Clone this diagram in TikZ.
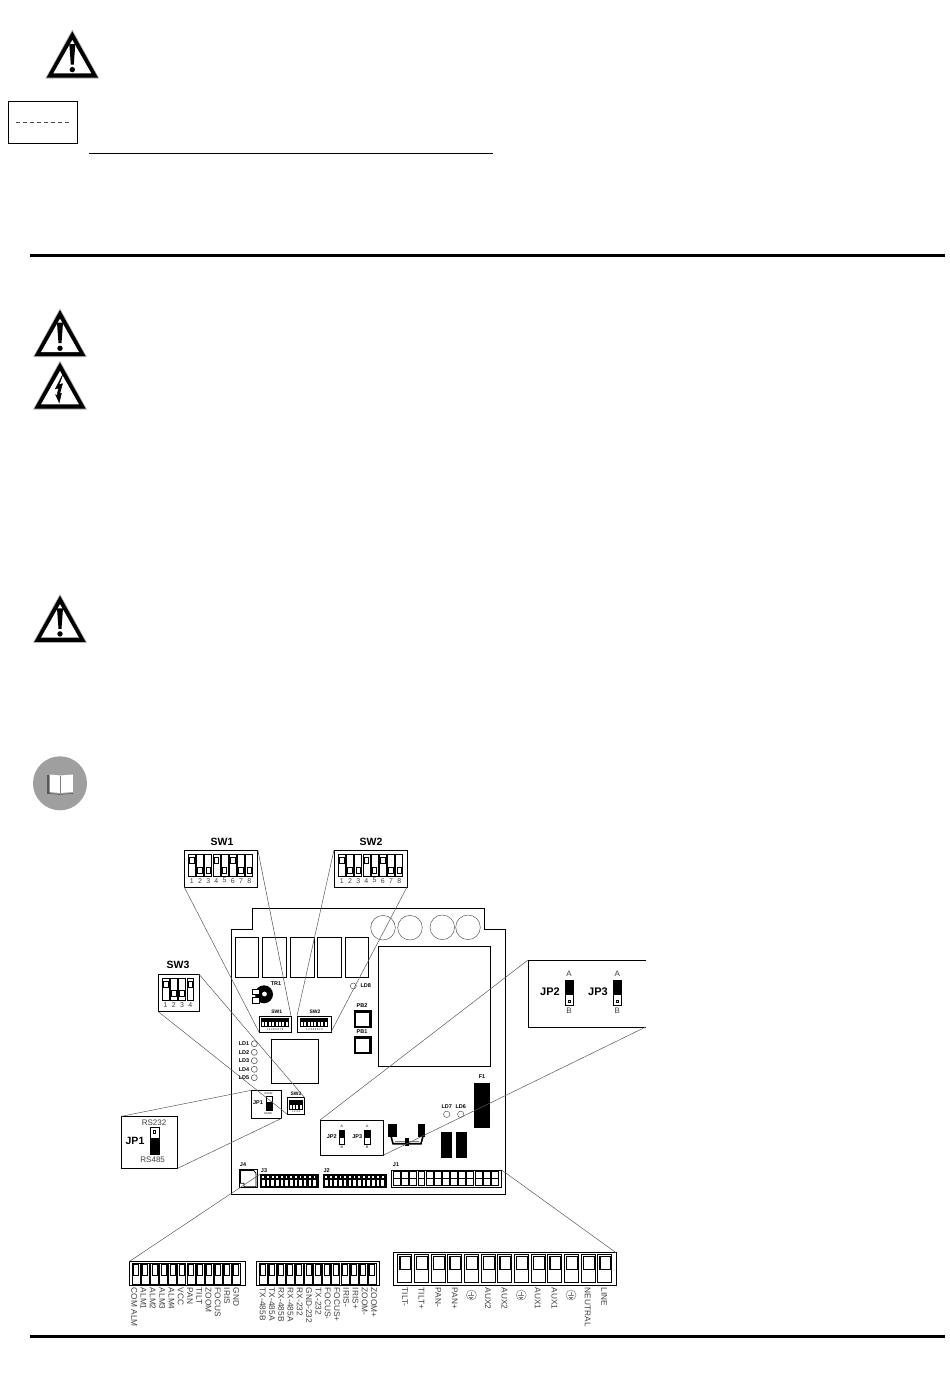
\documentclass[tikz,border=0pt]{standalone}
\usepackage{fontspec}
\setmainfont{Liberation Sans}
\usepackage{tikz}
\usetikzlibrary{positioning}
\definecolor{leadgray}{gray}{0.35}
\definecolor{labgray}{gray}{0.25}
\tikzset{
 box/.style={draw,line width=0.9pt,fill=white,inner sep=0pt,outer sep=0pt},
 lead/.style={draw=leadgray,line width=0.5pt},
 rel/.style={draw,line width=0.9pt},
 ring/.style={draw=leadgray,line width=0.5pt},
 cell/.style={draw,line width=0.8pt,fill=white},
 big/.style={font=\fontsize{10.5}{12}\selectfont\bfseries,inner sep=0pt},
 mid/.style={font=\fontsize{8}{9}\selectfont,text=labgray,inner sep=0pt},
 dig/.style={font=\fontsize{7}{8}\selectfont,text=labgray,inner sep=0pt},
 tiny/.style={font=\fontsize{5.5}{6}\selectfont\bfseries,inner sep=0pt},
 micro/.style={font=\fontsize{2.6}{3}\selectfont,inner sep=0pt},
 strip/.style={font=\fontsize{8.3}{9}\selectfont,text=labgray,inner sep=0pt,rotate=-90,anchor=west},
 warn/.pic={
  \fill[gray!60] (0,-48.4) -- (27,0.5) -- (-27,0.5) -- cycle;
  \fill (0,-46.6) -- (25.6,-0.5) -- (-25.6,-0.5) -- cycle;
  \fill[white] (0,-38) -- (19,-4.6) -- (-19,-4.6) -- cycle;
 },
 bang/.pic={
  \fill (-3,-34) -- (3,-34) -- (1.5,-13.5) -- (-1.5,-13.5) -- cycle;
  \fill (0,-8.4) circle (2.7);
 },
 bolt/.pic={
  \fill[draw,line width=0.4pt,scale=1.1] (2.7,-31.7) -- (-4.3,-18.3) -- (-1.3,-19) -- (-2.7,-12.3) -- (-4,-13)
   -- (-0.7,-5.7) -- (1.3,-14.3) -- (-0.3,-13.7) -- (2.3,-23) -- (-0.7,-22.3) -- cycle;
 },
 earth/.pic={
  \draw[gray,line width=0.5pt] (0,0) circle (5);
  \draw[gray,line width=0.35pt] (0,-3.4) -- (0,0.6) (-3,0.6) -- (3,0.6) (-2,2) -- (2,2) (-1,3.3) -- (1,3.3);
 }
}
\begin{document}
\begin{tikzpicture}[x=1pt,y=-1pt]
\useasboundingbox (0,0) rectangle (950,1379);
% warning signs and page rules
\pic at (72.3,78) {warn};
\pic at (72.3,78) {bang};
\pic at (60,356.7) {warn};
\pic at (60,356.7) {bang};
\pic at (60,409) {warn};
\pic at (60,409) {bolt};
\pic at (60,642.3) {warn};
\pic at (60,642.3) {bang};
\draw [line width=1.3pt] (8.3,101.3) rectangle (77.7,143.3);
\draw [black!70,line width=0.7pt,dash pattern=on 4pt off 3pt] (15.7,122.3) -- (71,122.3);
\draw [line width=1.2pt] (89,153.5) -- (493,153.5);
\draw [line width=2.8pt] (30,255.6) -- (945,255.6);
\draw [line width=2.8pt] (30,1336.8) -- (945,1336.8);
% book
\fill [gray!75] (60,783.3) circle (27);
\fill [black!65] (47.3,775) rectangle (50,794.4);
\fill [white] (49.5,774.5) -- (60,775.5) -- (72.8,774.5) -- (72.8,792) -- (60,793) -- (49.5,792) -- cycle;
\draw [gray,line width=0.6pt] (60,775.5) -- (60,793);
\draw [black!65,line width=0.6pt] (49.5,793.5) -- (60,794.4) -- (72.8,793.5);
% board
\draw [line width=1pt] (252.3,908.4) -- (484.3,908.4) -- (484.3,929.3) -- (505.7,929.3) -- (505.7,1194) -- (231.7,1194) -- (231.7,929.3) -- (252.3,929.3) -- cycle;
\foreach \xa/\xb in {235.7/258.7,262.7/286.5,290/314,317.5/341.7,345/368.7}
 \draw [rel] (\xa,937) rectangle (\xb,977.7);
\draw [ring] (383,927.7) circle (12.3);
\draw [ring] (410,927.7) circle (12.3);
\draw [ring] (442.3,927.3) circle (12.3);
\draw [ring] (468,927.3) circle (12.3);
\draw [rel] (378.3,946.7) rectangle (490.7,1066);
\draw [rel] (271.7,1039.3) rectangle (318.7,1083.3);
% trimmer
\fill (264,994.3) circle (9);
\draw [line width=1pt,fill=white] (252.6,989) rectangle (259.5,994.6);
\draw [line width=1pt,fill=white] (252.6,997.6) rectangle (259.5,1003);
\fill [white] (264.5,994) circle (2.4);
\node[tiny] (tra) at (276,983.7) {TR1};
% push buttons and leds
\node[box,line width=0.5pt,minimum width=17.7pt,minimum height=17pt] (pbb) at (362.8,1019.2) {};
\node[box,line width=0.5pt,minimum width=17.7pt,minimum height=16.6pt] (pba) at (362.8,1045) {};
\draw [line width=1.1pt] (355,1012) rectangle (370,1026.8);
\draw [line width=1.1pt] (355,1038) rectangle (370,1052.4);
\node[tiny] (pbblab) at (362,1005.7) {PB2};
\node[tiny] (pbalab) at (362,1032) {PB1};
\draw [ring] (353.3,986) circle (3);
\node[tiny] (ldh) at (365.7,986) {LD8};
\foreach \i/\ly in {1/1043.7,2/1052.3,3/1060.7,4/1069.3,5/1077.7} {
 \node[tiny] (ld\i) at (244,\ly) {LD\i};
 \draw [ring,line width=0.6pt] (254.3,\ly) circle (3);
}
\draw [ring] (446.7,1114.3) circle (3.2);
\draw [ring] (460.7,1114.3) circle (3.2);
\node[tiny] (ldg) at (446.7,1106.7) {LD7};
\node[tiny] (ldf) at (460.7,1106.7) {LD6};
% fuse and black parts
\fill (474,1082.7) rectangle (490.3,1128.3);
\node[tiny] (fa) at (482,1076.7) {F1};
\fill (441,1132.3) rectangle (451.7,1157.7);
\fill (455.7,1132.3) rectangle (466.7,1157.7);
\fill (388.3,1124) rectangle (396.7,1136.7);
\fill (417.7,1124) rectangle (425,1136.7);
\draw [line width=1.6pt] (391,1136) -- (393,1143.7) -- (421,1143.7) -- (423,1136);
\draw [gray,line width=0.8pt] (395,1141) -- (419,1141);
\fill (405,1138) rectangle (409,1145.5);
% big switch boxes
\node[box,minimum width=73.6pt,minimum height=37pt] (swa) at (221,868.5) {};
\node[box,minimum width=73pt,minimum height=37pt] (swb) at (370.5,868.5) {};
\node[box,minimum width=40.7pt,minimum height=37.4pt] (swc) at (178.7,993) {};
\node[big] (swalab) at (222,842) {SW1};
\node[big] (swblab) at (371,842) {SW2};
\node[big] (swclab) at (178,965) {SW3};
\foreach \i/\ky in {0/857.3,1/867.3,2/867.3,3/857.3,4/867.3,5/857.3,6/867.3,7/867.3} {
 \draw [cell] ({188.3+8.2*\i},854) rectangle ({195.3+8.2*\i},876.7);
 \draw [cell] ({189.6+8.2*\i},\ky) rectangle ({194+8.2*\i},\ky+6);
 \draw [cell] ({338.3+8.2*\i},854) rectangle ({345.3+8.2*\i},876.7);
 \draw [cell] ({339.6+8.2*\i},\ky) rectangle ({344+8.2*\i},\ky+6);
 \pgfmathtruncatemacro{\n}{\i+1}
 \node[dig] (swadig\n) at ({191.8+8.2*\i},880.6) {\n};
 \node[dig] (swbdig\n) at ({341.8+8.2*\i},880.6) {\n};
}
\foreach \i/\ky in {0/981,1/990.5,2/990.5,3/981} {
 \draw [cell] ({162.3+8.2*\i},978.3) rectangle ({169+8.2*\i},1000);
 \draw [cell] ({163.4+8.2*\i},\ky) rectangle ({167.9+8.2*\i},\ky+6);
 \pgfmathtruncatemacro{\n}{\i+1}
 \node[dig] (swcdig\n) at ({165.6+8.2*\i},1005.2) {\n};
}
% small switches on the board
\node[box,minimum width=32pt,minimum height=16pt] (swas) at (275,1024) {};
\node[box,minimum width=34pt,minimum height=16pt] (swbs) at (314,1024) {};
\node[box,minimum width=17.4pt,minimum height=16.6pt] (swcs) at (296,1106) {};
\node[tiny,font=\fontsize{5}{6}\selectfont\bfseries] (swaslab) at (276.7,1012) {SW1};
\node[tiny,font=\fontsize{5}{6}\selectfont\bfseries] (swbslab) at (315,1012) {SW2};
\node[tiny,font=\fontsize{5}{6}\selectfont\bfseries] (swcslab) at (296,1093.6) {SW3};
\foreach \i in {0,...,7} {
 \draw [line width=0.7pt,fill=white] ({261.4+3.4*\i},1018) rectangle ({264.4+3.4*\i},1026.5);
 \fill ({261.4+3.4*\i},1018) rectangle ({264.4+3.4*\i},1022);
 \draw [line width=0.7pt,fill=white] ({300.2+3.4*\i},1018) rectangle ({303.2+3.4*\i},1026.5);
 \fill ({300.2+3.4*\i},1018) rectangle ({303.2+3.4*\i},1022);
}
\node[micro] (swasd) at (275,1029.6) {1 2 3 4 5 6 7 8};
\node[micro] (swbsd) at (314.5,1029.6) {1 2 3 4 5 6 7 8};
\foreach \i in {0,...,3} {
 \draw [line width=0.7pt,fill=white] ({289+3.4*\i},1100) rectangle ({292+3.4*\i},1109.5);
 \fill ({289+3.4*\i},1100) rectangle ({292+3.4*\i},1105);
}
\node[micro] (swcsd) at (296,1112) {1 2 3 4};
% jumpers
\node[box,minimum width=56.4pt,minimum height=52pt] (jpa) at (149.5,1142.3) {};
\node[box,line width=0.8pt,minimum width=30.4pt,minimum height=28pt] (jpas) at (266.5,1104.3) {};
\node[box,line width=0.8pt,minimum width=63pt,minimum height=35.3pt] (jps) at (351.5,1137.7) {};
\coordinate (jpbig) at (528,960);
\coordinate (jpend) at (645.7,1027);
\draw [line width=0.9pt] (645.7,960) -- (jpbig) -- (528,1027) -- (jpend);
\node[big] (jpalab) at (135,1140.7) {JP1};
\node[mid] (jparsa) at (154,1122.7) {RS232};
\node[mid] (jparsb) at (152.7,1159.3) {RS485};
\draw [line width=0.8pt,fill=white] (150.2,1127) rectangle (159,1154);
\fill (150.2,1137.7) rectangle (159,1154);
\draw [line width=0.7pt] (153.3,1130.5) rectangle (155.8,1133);
\node[tiny] (jpaslab) at (258,1103) {JP1};
\node[micro] (jpasa) at (268.7,1093.8) {RS232};
\node[micro] (jpasb) at (268,1113.4) {RS485};
\draw [line width=0.6pt,fill=white] (266,1096.7) rectangle (272.7,1110);
\fill (266,1102) rectangle (272.7,1110);
\node[big,font=\fontsize{11}{12}\selectfont\bfseries] (jpblab) at (550,992) {JP2};
\node[big,font=\fontsize{11}{12}\selectfont\bfseries] (jpclab) at (598,992) {JP3};
\foreach \jx/\jn in {565/b,613.3/c} {
 \draw [line width=0.8pt,fill=white] (\jx,980) rectangle (\jx+8.4,1005.7);
 \fill (\jx,980) rectangle (\jx+8.4,995);
 \draw [line width=0.7pt] (\jx+3,1000) rectangle (\jx+5.2,1002.2);
 \node[mid] (jp\jn a) at (\jx+4,974) {A};
 \node[mid] (jp\jn b) at (\jx+4,1011) {B};
}
\node[tiny] (jpbslab) at (331.7,1136.7) {JP2};
\node[tiny] (jpcslab) at (357.3,1136.7) {JP3};
\foreach \jx/\jn in {339/b,364.5/c} {
 \draw [line width=0.6pt,fill=white] (\jx,1130) rectangle (\jx+5.6,1144.3);
 \fill (\jx,1130) rectangle (\jx+5.6,1138.3);
 \node[micro,font=\fontsize{3.5}{4}\selectfont] (jp\jn sa) at (\jx+2.8,1126.7) {A};
 \node[micro,font=\fontsize{3.5}{4}\selectfont] (jp\jn sb) at (\jx+2.8,1147) {B};
}
% connectors on the board
\node[box,minimum width=17.7pt,minimum height=18.4pt] (jd) at (248.2,1178.5) {};
\draw [line width=0.8pt] (240.4,1170.4) -- (253.7,1170.4) -- (256,1173.3) -- (256,1186.7) -- (244,1186.7) -- (244,1183.3) -- (240.4,1183.3) -- cycle;
\node[tiny] (jdlab) at (243,1165) {J4};
\node[tiny] (jclab) at (264,1170.7) {J3};
\node[tiny] (jblab) at (326.7,1170.7) {J2};
\node[tiny] (jalab) at (396,1165) {J1};
\node[box,minimum width=57.7pt,minimum height=13.3pt] (jcs) at (289.2,1180.6) {};
\node[box,minimum width=62.7pt,minimum height=12.7pt] (jbs) at (354.7,1180.7) {};
\node[box,minimum width=110pt,minimum height=17.3pt] (jas) at (446.7,1178.7) {};
\fill (260.5,1174.5) rectangle (317.5,1187);
\foreach \i in {0,...,11} {
 \fill [white] ({262+4.65*\i},1179.6) rectangle ({264.6+4.65*\i},1186);
 \fill [white] ({262.4+4.65*\i},1175.8) rectangle ({264.2+4.65*\i},1178.2);
}
\fill (323.8,1174.8) rectangle (385.5,1187);
\foreach \i in {0,...,12} {
 \fill [white] ({325+4.7*\i},1179.6) rectangle ({327.6+4.7*\i},1186);
 \fill [white] ({325.4+4.7*\i},1175.8) rectangle ({327.2+4.7*\i},1178.2);
}
\foreach \i in {0,...,12} {
 \draw [line width=0.9pt,fill=white] ({393.5+8.16*\i},1171.6) rectangle ({400.4+8.16*\i},1185.6);
 \draw [line width=0.9pt] ({393.5+8.16*\i},1178.6) -- ({400.4+8.16*\i},1178.6);
}
% terminal strips under the board
\node[box,minimum width=116pt,minimum height=24pt] (jcbig) at (187,1273.7) {};
\node[box,minimum width=123pt,minimum height=24pt] (jbbig) at (317.8,1273.7) {};
\node[box,minimum width=222.7pt,minimum height=32.6pt] (jabig) at (504.7,1269) {};
\foreach \i in {0,...,11} {
 \draw [cell,line width=0.7pt] ({132.3+9.1*\i},1263.5) rectangle ({140.3+9.1*\i},1284);
 \draw [cell,line width=0.9pt] ({133.8+9.1*\i},1264) rectangle ({138.8+9.1*\i},1275);
}
\foreach \i in {0,...,12} {
 \draw [cell,line width=0.7pt] ({259+9.1*\i},1263.5) rectangle ({267+9.1*\i},1284);
 \draw [cell,line width=0.9pt] ({260.5+9.1*\i},1264) rectangle ({265.5+9.1*\i},1275);
}
\foreach \i in {0,...,12} {
 \draw [cell,line width=0.7pt] ({397.7+16.67*\i},1254.7) rectangle ({411.7+16.67*\i},1282.3);
 \draw [cell,line width=1.1pt] ({400+16.67*\i},1256.7) rectangle ({411+16.67*\i},1269.5);
}
\foreach \i/\lab in {0/COM ALM,1/ALM1,2/ALM2,3/ALM3,4/ALM4,5/VCC,6/PAN,7/TILT,8/ZOOM,9/FOCUS,10/IRIS,11/GND}
 \node[strip] (jclab\i) at ({134.3+9.27*\i},1287.7) {\lab};
\foreach \i/\lab in {0/TX-485B,1/TX-485A,2/RX-485B,3/RX-485A,4/RX-232,5/GND-232,6/TX-232,7/FOCUS-,8/FOCUS+,9/IRIS-,10/IRIS+,11/ZOOM-,12/ZOOM+}
 \node[strip] (jblab\i) at ({262.7+9.28*\i},1287.7) {\lab};
\foreach \i/\lab in {0/TILT-,1/TILT+,2/PAN-,3/PAN+,5/AUX2,6/AUX2,8/AUX1,9/AUX1,11/NEUTRAL,12/LINE}
 \node[strip] (jalab\i) at ({405+16.6*\i},1287.7) {\lab};
\foreach \i in {4,7,10}
 \pic at ({405+16.6*\i},1295) {earth};
% leader lines
\draw [lead] (swa.south west) -- (swas.south west);
\draw [lead] (swa.north east) -- (swas.north east);
\draw [lead] (swb.north west) -- (swbs.north west);
\draw [lead] (swb.south east) -- (swbs.south east);
\draw [lead] (swc.north east) -- (swcs.north east);
\draw [lead] (swc.south west) -- (swcs.south west);
\draw [lead] (jpa.north west) -- (jpas.north west);
\draw [lead] (jpa.south east) -- (jpas.south east);
\draw [lead] (jpbig) -- (jps.north west);
\draw [lead] (jpend) -- (jps.south east);
\draw [lead] (jcbig.north west) -- (jcs.north west);
\draw [lead] (jabig.north east) -- (jas.north east);
\end{tikzpicture}
\end{document}
